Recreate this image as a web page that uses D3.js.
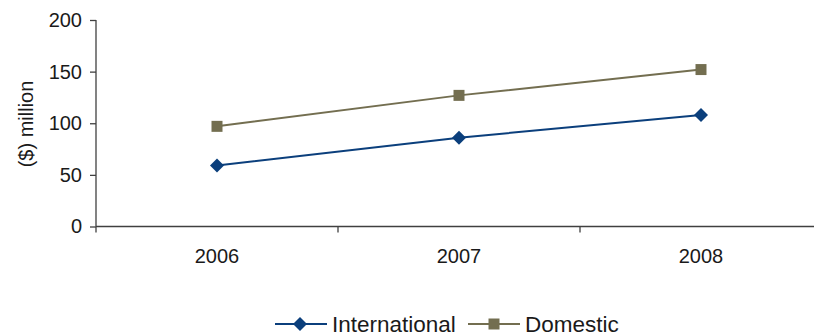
<!DOCTYPE html>
<html><head><meta charset="utf-8">
<script src="https://cdn.jsdelivr.net/npm/d3@7"></script>
<style>body{margin:0;background:#fff;}svg{display:block;font-family:"Liberation Sans",Arial,sans-serif;}</style>
</head><body>
<script>
const categories = ["2006", "2007", "2008"];
const international = [59, 86, 108];
const domestic = [97, 127, 152];
const yTicks = [0, 50, 100, 150, 200];
const seriesNames = ["International", "Domestic"];
const colors = ["#0b3f7c", "#736e50"];

const W = 814, H = 336;
const svg = d3.select("body").append("svg").attr("width", W).attr("height", H);

const x = d3.scaleBand().domain(categories).range([96, 822]);
const y = d3.scaleLinear().domain([0, 200]).range([226.5, 20]);
const axisColor = "#404040";

// Y axis
const yAxis = svg.append("g").attr("transform", "translate(96,0)")
  .call(d3.axisLeft(y).tickValues(yTicks).tickSize(6).tickPadding(8));
yAxis.select(".domain").attr("stroke", axisColor).attr("stroke-width", 1.3).attr("d", `M0,${y(200)}V${y(0)}`);
yAxis.selectAll(".tick line").attr("stroke", axisColor).attr("stroke-width", 1.3);
yAxis.selectAll(".tick text").attr("font-size", 20).attr("fill", "#1a1a1a").attr("font-family", "Liberation Sans, Arial, sans-serif");

// X axis
const xAxis = svg.append("g").attr("transform", `translate(0,${y(0)})`);
xAxis.append("line").attr("x1", 96).attr("x2", 822).attr("y1", 0).attr("y2", 0)
  .attr("stroke", axisColor).attr("stroke-width", 1.5);
const bounds = categories.map(c => x(c)).concat([x(categories[categories.length-1]) + x.bandwidth()]);
xAxis.selectAll("line.tk").data(bounds).join("line").attr("class", "tk")
  .attr("x1", d => d).attr("x2", d => d).attr("y1", 0).attr("y2", 6)
  .attr("stroke", axisColor).attr("stroke-width", 1.3);
xAxis.selectAll("text").data(categories).join("text")
  .attr("x", d => x(d) + x.bandwidth()/2).attr("y", 36.5)
  .attr("text-anchor", "middle").attr("font-size", 20).attr("fill", "#1a1a1a").text(d => d);

// Y label
svg.append("text").attr("transform", "translate(33,124) rotate(-90)")
  .attr("text-anchor", "middle").attr("font-size", 20).attr("fill", "#1a1a1a").text("($) million");

const cx = d => x(d) + x.bandwidth()/2;
const line = d3.line().x(d => cx(d.c)).y(d => y(d.v));
const diamond = (s) => `M0,${-s}L${s},0L0,${s}L${-s},0Z`;
const square = d3.symbol().type(d3.symbolSquare).size(121)();

const series = [international, domestic].map((vals, i) => ({
  name: seriesNames[i], color: colors[i], pts: vals.map((v, j) => ({c: categories[j], v}))
}));

series.forEach((s, i) => {
  svg.append("path").datum(s.pts).attr("d", line).attr("fill", "none")
    .attr("stroke", s.color).attr("stroke-width", 2);
  svg.selectAll(null).data(s.pts).join("path")
    .attr("transform", d => `translate(${cx(d.c)},${y(d.v)})`)
    .attr("d", i === 0 ? diamond(7) : square).attr("fill", s.color);
});

// Legend
const legendItems = [
  {x0: 275, x1: 327, mx: 300, tx: 332},
  {x0: 468, x1: 520, mx: 494, tx: 525}
];
const ly = 324;
series.forEach((s, i) => {
  const L = legendItems[i];
  svg.append("line").attr("x1", L.x0).attr("x2", L.x1).attr("y1", ly).attr("y2", ly)
    .attr("stroke", s.color).attr("stroke-width", 2);
  svg.append("path").attr("transform", `translate(${L.mx},${ly})`)
    .attr("d", i === 0 ? diamond(7) : square).attr("fill", s.color);
  svg.append("text").attr("x", L.tx).attr("y", ly + 8).attr("font-size", 22.5)
    .attr("fill", "#1a1a1a").text(s.name);
});
</script>
</body></html>
